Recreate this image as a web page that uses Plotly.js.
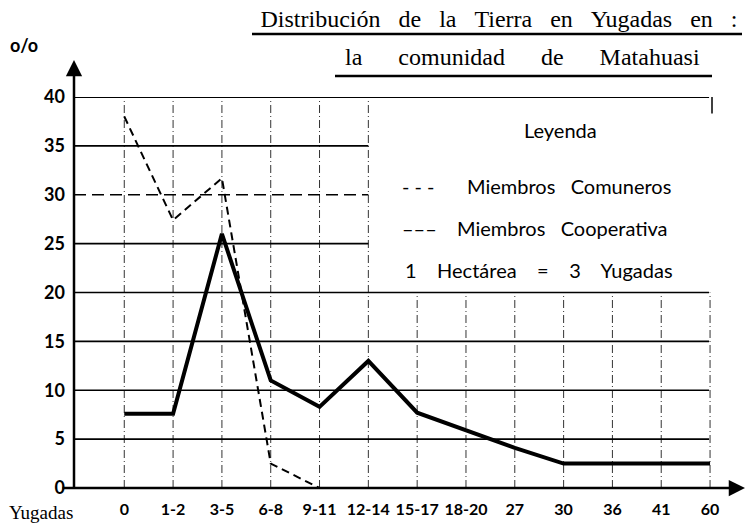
<!DOCTYPE html>
<html>
<head>
<meta charset="utf-8">
<script src="https://cdn.plot.ly/plotly-3.0.1.min.js"></script>
<style>html,body{margin:0;padding:0;background:#fff;}#chart{width:746px;height:525px;}</style>
</head>
<body>
<div id="chart"></div>
<script>
// ---- data ----
const categories = ['0','1-2','3-5','6-8','9-11','12-14','15-17','18-20','27','30','36','41','60'];
const cooperativa = [7.6, 7.6, 26, 11, 8.3, 13, 7.7, 5.9, 4.1, 2.5, 2.5, 2.5, 2.5];
const comuneros = [38, 27.4, 31.7, 2.5, 0];
const yTicks = [0, 5, 10, 15, 20, 25, 30, 35, 40];
const yTickText = ['0', '5', '10', '15', '20', '25', '30', '35', '40'];
const titleLine1 = 'Distribución de la Tierra en Yugadas en :';
const titleLine2 = 'la comunidad de Matahuasi';
const legendTitle = 'Leyenda';
const legendItems = ['Miembros Comuneros', 'Miembros Cooperativa'];
const legendNote = '1 Hectárea = 3 Yugadas';

// ---- layout helpers (pixel -> paper) ----
const W = 746, H = 525, L = 74, R = 34, T = 97, B = 37;
const pw = W - L - R, ph = H - T - B;
const px = x => (x - L) / pw;
const py = y => (H - B - y) / ph;
const sp = (s, n) => s.replace(/ /g, '\u00a0'.repeat(n));
const SERIF = 'Liberation Serif, serif';
const SANS = 'Lato, Open Sans, sans-serif';
const xRange = [-1.03, 12.04];

const traces = [
  {x: categories, y: cooperativa, type: 'scatter', mode: 'lines', name: legendItems[1],
   line: {color: '#000', width: 4}, showlegend: false, hoverinfo: 'x+y'},
  {x: categories.slice(0, comuneros.length), y: comuneros, type: 'scatter', mode: 'lines', name: legendItems[0],
   line: {color: '#000', width: 2, dash: '8px,5px'}, showlegend: false, hoverinfo: 'x+y'}
];

const shapes = [];
// vertical grid lines
categories.forEach((c, i) => {
  shapes.push({type: 'line', xref: 'x', yref: 'y', x0: i, x1: i, y0: 0, y1: i <= 5 ? 40 : 20,
    line: {color: '#333', width: 1, dash: '8px,3px,1px,3px'}, layer: 'below'});
});
// horizontal grid lines
yTicks.filter(v => v > 0).forEach(v => {
  const partial = (v === 25 || v === 30 || v === 35);
  shapes.push({type: 'line', xref: 'x', yref: 'y', x0: xRange[0], x1: partial ? 5 : 11.98, y0: v, y1: v,
    line: {color: '#000', width: v === 40 ? 2 : 1.7, dash: v === 30 ? '12px,6px' : 'solid'}, layer: 'below'});
});
// right border tick at top
shapes.push({type: 'line', xref: 'paper', yref: 'y', x0: 1, x1: 1, y0: 40, y1: 38.3, line: {color: '#000', width: 1.5}});
// title underlines
shapes.push({type: 'line', xref: 'paper', yref: 'paper', x0: px(252), x1: px(742), y0: py(34), y1: py(34), line: {color: '#000', width: 2.5}});
shapes.push({type: 'line', xref: 'paper', yref: 'paper', x0: px(335), x1: px(712), y0: py(76), y1: py(76), line: {color: '#000', width: 2.5}});

const legFont = {family: SANS, size: 20, color: '#000'};
const annotations = [
  // axis arrows
  {xref: 'paper', yref: 'paper', x: 0, y: py(60), ax: 0, ay: 430, axref: 'pixel', ayref: 'pixel',
   text: '', showarrow: true, arrowhead: 2, arrowsize: 1.3, arrowwidth: 2.5, arrowcolor: '#000', standoff: 0},
  {xref: 'paper', yref: 'paper', x: px(745), y: py(488), ax: -684, ay: 0,
   text: '', showarrow: true, arrowhead: 2, arrowsize: 1.3, arrowwidth: 2.5, arrowcolor: '#000', standoff: 0},
  // axis captions
  {xref: 'paper', yref: 'paper', x: px(24), y: py(45), text: '<b>o/o</b>', showarrow: false, font: {family: SANS, size: 18, color: '#000'}, xanchor: 'center', yanchor: 'middle'},
  {xref: 'paper', yref: 'paper', x: px(41), y: py(512), text: 'Yugadas', showarrow: false, font: {family: SERIF, size: 19, color: '#000'}, xanchor: 'center', yanchor: 'middle'},
  // title second line
  {xref: 'paper', yref: 'paper', x: px(522), y: py(57), text: sp(titleLine2, 6), showarrow: false, font: {family: SERIF, size: 24, color: '#000'}, xanchor: 'center', yanchor: 'middle'},
  // legend
  {xref: 'paper', yref: 'paper', x: px(560), y: py(130), text: legendTitle, showarrow: false, font: legFont, xanchor: 'center', yanchor: 'middle'},
  {xref: 'paper', yref: 'paper', x: px(400), y: py(186), text: '-\u00a0-\u00a0-', showarrow: false, font: legFont, xanchor: 'left', yanchor: 'middle'},
  {xref: 'paper', yref: 'paper', x: px(465), y: py(186), text: sp(legendItems[0], 3), showarrow: false, font: legFont, xanchor: 'left', yanchor: 'middle'},
  {xref: 'paper', yref: 'paper', x: px(400), y: py(228), text: '\u2013\u2013\u2013', showarrow: false, font: legFont, xanchor: 'left', yanchor: 'middle'},
  {xref: 'paper', yref: 'paper', x: px(455), y: py(228), text: sp(legendItems[1], 3), showarrow: false, font: legFont, xanchor: 'left', yanchor: 'middle'},
  {xref: 'paper', yref: 'paper', x: px(403), y: py(270), text: sp(legendNote, 4), showarrow: false, font: legFont, xanchor: 'left', yanchor: 'middle'}
];

const layout = {
  width: W, height: H,
  margin: {l: L, r: R, t: T, b: B, pad: 0},
  paper_bgcolor: '#fff', plot_bgcolor: '#fff',
  font: {family: SERIF, color: '#000', size: 16},
  title: {text: sp(titleLine1, 3), font: {family: SERIF, size: 24, color: '#000'},
          x: 499 / W, xref: 'container', xanchor: 'center', y: 1 - 19 / H, yref: 'container', yanchor: 'middle'},
  xaxis: {type: 'category', categoryorder: 'array', categoryarray: categories, range: xRange,
          showgrid: false, zeroline: false, showline: false, ticks: '', ticklabelstandoff: 10,
          tickfont: {family: SANS, size: 16, color: '#000', weight: 'bold'}, fixedrange: true},
  yaxis: {range: [0, 40], tickvals: yTicks, ticktext: yTickText, showgrid: false, zeroline: false,
          showline: false, ticks: '', ticklabelstandoff: 8,
          tickfont: {family: SANS, size: 18, color: '#000', weight: 'bold'}, fixedrange: true},
  shapes: shapes,
  annotations: annotations,
  showlegend: false
};

Plotly.newPlot('chart', traces, layout, {displayModeBar: false, staticPlot: true});
</script>
</body>
</html>
